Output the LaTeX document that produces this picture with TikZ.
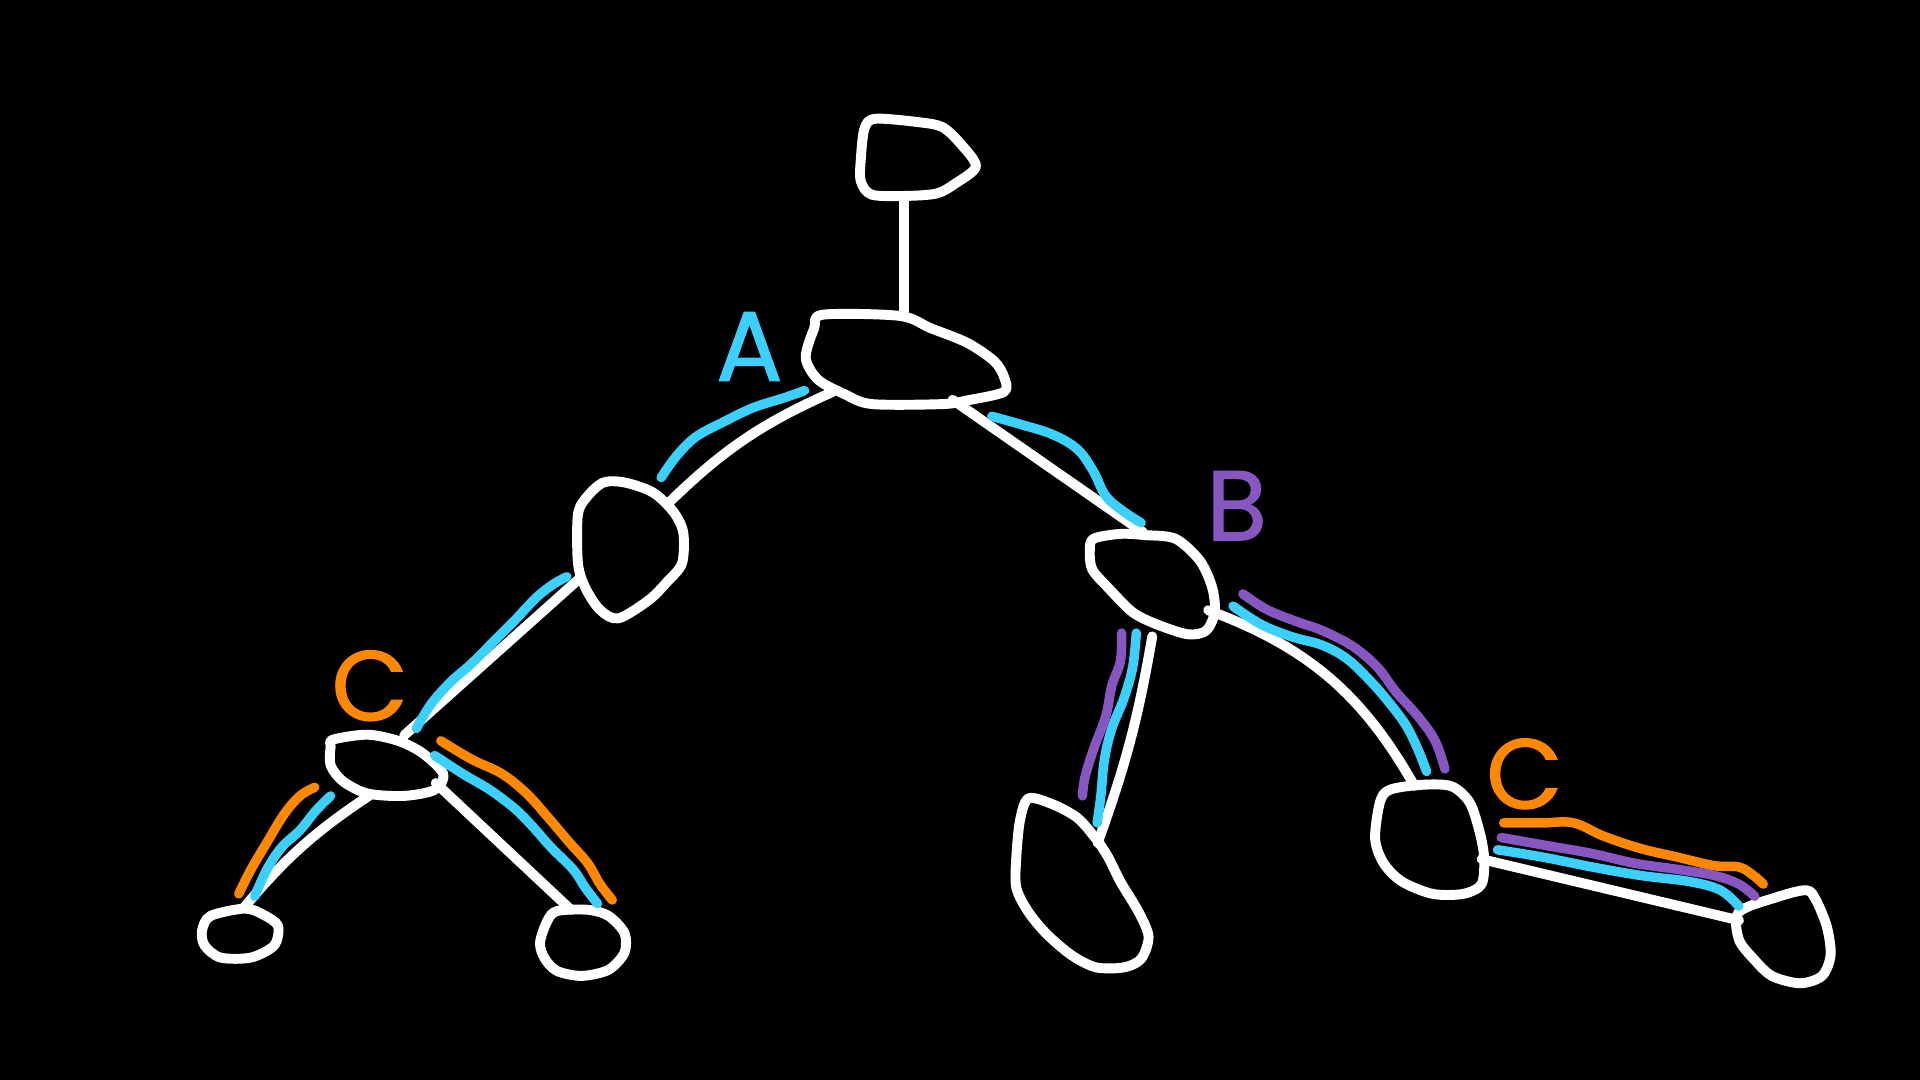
\documentclass[tikz,border=0pt]{standalone}
\usepackage{fontspec}
\setmainfont{Poppins}
\newfontfamily\labfont{Poppins}[FakeBold=1.2]
\usetikzlibrary{shapes.geometric}
\definecolor{hcyan}{RGB}{60,208,255}
\definecolor{hpurple}{RGB}{136,86,192}
\definecolor{horange}{RGB}{255,136,0}
\tikzset{
  pen/.style={line width=2.3pt,line cap=round,line join=round},
  blob/.style={pen,draw=white},
  hub/.style={shape=ellipse,inner sep=0pt,draw=none},
  edge/.style={pen,draw=white},
  hl/.style={pen,line width=2.2pt,draw=#1},
  lab/.style={text=#1,font=\labfont\fontsize{23}{23}\selectfont,inner sep=0pt}
}
\begin{document}
\begin{tikzpicture}[x=0.01cm,y=-0.01cm]
\fill[black] (0,0) rectangle (1568,882);
\useasboundingbox (0,0) rectangle (1568,882);

% nodes (invisible ellipses for connectors)
\node[hub,minimum width=0.80cm,minimum height=0.64cm] (r) at (738,128) {};
\node[hub,minimum width=1.65cm,minimum height=0.75cm] (s) at (738,293) {};
\node[hub,minimum width=0.88cm,minimum height=1.13cm] (l) at (514,449) {};
\node[hub,minimum width=1.04cm,minimum height=0.84cm] (m) at (941,477) {};
\node[hub,minimum width=0.95cm,minimum height=0.50cm] (c) at (316,625) {};
\node[hub,minimum width=0.64cm,minimum height=0.42cm] (ll) at (196,762) {};
\node[hub,minimum width=0.70cm,minimum height=0.55cm] (lr) at (476,770) {};
\node[hub,minimum width=0.60cm,minimum height=0.70cm] (ml) at (884,721) {};
\node[hub,minimum width=0.90cm,minimum height=0.90cm] (rn) at (1167,686) {};
\node[hub,minimum width=0.77cm,minimum height=0.76cm] (fr) at (1457,765) {};

% blob outlines
\draw[blob] plot[smooth cycle,tension=0.5] coordinates {(715,97) (752,100) (770,104) (785,118) (797,136) (780,150) (765,158) (740,160) (712,159) (703,148) (703,130) (706,105)};
\draw[blob] plot[smooth cycle,tension=0.5] coordinates {(672,257) (735,258) (760,268) (790,280) (812,295) (820,308) (820,320) (790,327) (770,330) (712,330) (690,322) (668,310) (658,292) (665,268)};
\draw[blob] plot[smooth cycle,tension=0.5] coordinates {(493,394) (510,394) (533,402) (550,418) (558,435) (557,460) (545,475) (530,490) (505,505) (490,498) (478,480) (472,460) (472,420) (480,405)};
\draw[blob] plot[smooth cycle,tension=0.5] coordinates {(893,440) (915,436) (935,437) (960,440) (980,458) (990,480) (992,500) (985,515) (970,518) (945,510) (925,500) (905,480) (892,465) (890,450)};
\draw[blob] plot[smooth cycle,tension=0.5] coordinates {(272,604) (300,600) (325,605) (345,615) (362,632) (355,645) (330,650) (300,648) (280,638) (270,625) (270,610)};
\draw[blob] plot[smooth cycle,tension=0.5] coordinates {(172,748) (200,742) (215,747) (227,756) (224,772) (205,782) (180,782) (167,772) (165,760)};
\draw[blob] plot[smooth cycle,tension=0.5] coordinates {(455,744) (480,743) (497,748) (510,762) (510,778) (497,792) (475,797) (455,793) (445,783) (441,770) (447,752)};
\draw[blob] plot[smooth cycle,tension=0.5] coordinates {(840,652) (860,657) (880,668) (895,685) (905,700) (915,720) (930,745) (938,765) (932,783) (918,790) (895,790) (875,780) (855,763) (840,745) (830,725) (830,700) (833,670)};
\draw[blob] plot[smooth cycle,tension=0.5] coordinates {(1135,645) (1160,641) (1185,642) (1200,655) (1208,678) (1212,700) (1210,722) (1195,730) (1170,730) (1145,720) (1130,705) (1123,685) (1127,655)};
\draw[blob] plot[smooth cycle,tension=0.5] coordinates {(1420,745) (1450,733) (1475,727) (1483,735) (1492,757) (1495,780) (1488,797) (1470,803) (1447,797) (1432,783) (1420,767)};

% connectors
\draw[edge] (r) -- (s);
\draw[edge] (s.205) to[bend right=10] (l.50);
\draw[edge] (s.-40) -- (m.100);
\draw[edge] (l.-150) -- (c.60);
\draw[edge] (c.-120) to[bend right=8] (ll.80);
\draw[edge] (c.-20) -- (lr.110);
\draw[edge] (m.-90) to[bend left=5] (ml);
\draw[edge] (m.-25) to[bend left=20] (rn.105);
\draw[edge] (rn.-20) -- (fr.160);

% highlights
\draw[hl=hcyan] plot[smooth,tension=0.6] coordinates {(540,390) (552,373) (568,357) (590,345) (615,333) (640,325) (657,319)};
\draw[hl=hcyan] plot[smooth,tension=0.6] coordinates {(810,340) (835,347) (860,355) (880,367) (893,385) (903,405) (918,418) (932,427)};
\draw[hl=hcyan] plot[smooth,tension=0.6] coordinates {(340,595) (352,575) (368,557) (385,542) (405,522) (420,507) (438,488) (452,477) (463,471)};
\draw[hl=horange] plot[smooth,tension=0.6] coordinates {(195,730) (205,710) (218,688) (232,665) (245,650) (257,643)};
\draw[hl=hcyan] plot[smooth,tension=0.6] coordinates {(208,732) (218,710) (230,692) (245,678) (258,662) (270,650)};
\draw[hl=horange] plot[smooth,tension=0.6] coordinates {(360,605) (385,620) (410,632) (430,648) (448,668) (465,688) (480,705) (490,722) (500,735)};
\draw[hl=hcyan] plot[smooth,tension=0.6] coordinates {(355,617) (378,632) (400,645) (420,660) (435,675) (450,692) (468,710) (478,725) (488,738)};
\draw[hl=hpurple] plot[smooth,tension=0.6] coordinates {(916,517) (915,540) (908,560) (903,585) (893,612) (886,635) (884,650)};
\draw[hl=hcyan] plot[smooth,tension=0.6] coordinates {(928,517) (925,545) (918,570) (908,595) (902,620) (899,650) (896,672)};
\draw[hl=hpurple] plot[smooth,tension=0.6] coordinates {(1015,485) (1035,498) (1060,508) (1080,515) (1105,528) (1125,545) (1140,565) (1158,585) (1172,605) (1180,628)};
\draw[hl=hcyan] plot[smooth,tension=0.6] coordinates {(1007,495) (1030,510) (1055,520) (1080,527) (1100,538) (1118,555) (1133,572) (1148,592) (1158,612) (1165,630)};
\draw[hl=horange] plot[smooth,tension=0.6] coordinates {(1228,672) (1260,672) (1285,672) (1310,683) (1340,693) (1370,700) (1400,707) (1420,708) (1432,715) (1440,722)};
\draw[hl=hpurple] plot[smooth,tension=0.6] coordinates {(1226,684) (1260,690) (1300,697) (1335,705) (1370,710) (1400,715) (1420,722) (1433,732)};
\draw[hl=hcyan] plot[smooth,tension=0.6] coordinates {(1223,694) (1260,700) (1300,708) (1340,715) (1380,720) (1405,727) (1420,740)};

% labels
\node[lab=hcyan] (labA) at (612,283) {A};
\node[lab=hpurple] (labB) at (1010,413) {B};
\node[lab=horange] (labC1) at (302,560) {C};
\node[lab=horange] (labC2) at (1245,632) {C};
\end{tikzpicture}
\end{document}
